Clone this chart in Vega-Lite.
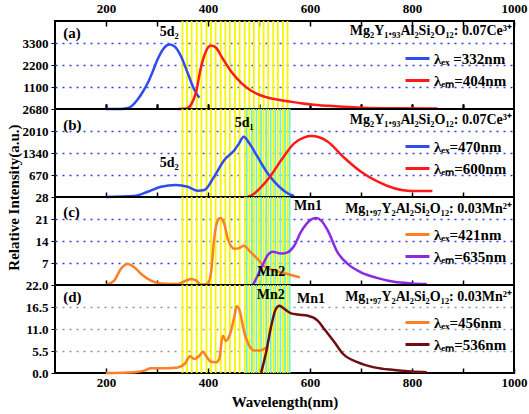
{
"$schema": "https://vega.github.io/schema/vega-lite/v6.json",
"padding": {"left": 5, "top": 1, "right": 2, "bottom": 2},
"spacing": 0,
"bounds": "flush",
"background": "white",
"config": {
  "view": {"stroke": "black", "strokeWidth": 2},
  "font": "Liberation Serif",
  "axis": {"labelFont": "Liberation Serif", "labelFontWeight": "bold", "labelFontSize": 13, "labelColor": "black", "tickColor": "black", "domain": false, "titleFont": "Liberation Serif", "titleColor": "black", "labelOverlap": false, "tickCount": 20},
  "text": {"font": "Liberation Serif", "fontWeight": "bold", "color": "black"},
  "legend": {"orient": "none", "legendX": 349, "legendY": 24, "symbolType": "stroke", "symbolStrokeWidth": 3, "symbolSize": 576, "labelFont": "Liberation Serif", "labelFontWeight": "bold", "labelFontSize": 15, "labelColor": "black", "rowPadding": 0, "padding": 0, "labelOffset": 3, "title": null}
},
"resolve": {"scale": {"x": "independent", "y": "independent", "color": "independent"}, "axis": {"x": "independent", "y": "independent"}, "legend": {"color": "independent"}},
"datasets": {
  "yellow": [{"wl":350},{"wl":359},{"wl":368},{"wl":378},{"wl":387},{"wl":397},{"wl":406},{"wl":415},{"wl":425},{"wl":434},{"wl":443},{"wl":453},{"wl":462},{"wl":472},{"wl":481},{"wl":490},{"wl":500},{"wl":509},{"wl":518},{"wl":528},{"wl":537},{"wl":547},{"wl":556}],
  "cyan": [{"wl":476},{"wl":486},{"wl":495},{"wl":504},{"wl":514},{"wl":523},{"wl":532},{"wl":542},{"wl":551},{"wl":560}],
  "notes": [
    {"p":"a","k":"tag","t":"(a)","wl":116,"v":3825},
    {"p":"a","k":"peak","t":"5d₂","wl":324,"v":3875},
    {"p":"a","k":"formula","t":"Mg₂Y₁.₉₃Al₂Si₂O₁₂: 0.07Ce³⁺","wl":996,"v":3890},
    {"p":"b","k":"tag","t":"(b)","wl":116,"v":2192},
    {"p":"b","k":"peak","t":"5d₁","wl":471,"v":2253},
    {"p":"b","k":"peak","t":"5d₂","wl":324,"v":1035},
    {"p":"b","k":"formula","t":"Mg₂Y₁.₉₃Al₂Si₂O₁₂: 0.07Ce³⁺","wl":996,"v":2345},
    {"p":"c","k":"tag","t":"(c)","wl":116,"v":23.2},
    {"p":"c","k":"peak","t":"Mn1","wl":596,"v":25.1},
    {"p":"c","k":"peak","t":"Mn2","wl":524,"v":4.1},
    {"p":"c","k":"formula","t":"Mg₁.₉₇Y₂Al₂Si₂O₁₂: 0.03Mn²⁺","wl":996,"v":24.2},
    {"p":"d","k":"tag","t":"(d)","wl":116,"v":19.1},
    {"p":"d","k":"peak","t":"Mn2","wl":523,"v":19.5},
    {"p":"d","k":"peak","t":"Mn1","wl":602,"v":18.5},
    {"p":"d","k":"formula","t":"Mg₁.₉₇Y₂Al₂Si₂O₁₂: 0.03Mn²⁺","wl":996,"v":19}
  ],
  "curves": [
    {"p":"a","s":"λₑₓ =332nm","wl":200,"v":0},{"p":"a","s":"λₑₓ =332nm","wl":230,"v":0},{"p":"a","s":"λₑₓ =332nm","wl":245,"v":60},{"p":"a","s":"λₑₓ =332nm","wl":262,"v":475},{"p":"a","s":"λₑₓ =332nm","wl":272,"v":850},{"p":"a","s":"λₑₓ =332nm","wl":282,"v":1310},{"p":"a","s":"λₑₓ =332nm","wl":292,"v":1900},{"p":"a","s":"λₑₓ =332nm","wl":301,"v":2475},{"p":"a","s":"λₑₓ =332nm","wl":314,"v":3060},{"p":"a","s":"λₑₓ =332nm","wl":324,"v":3225},{"p":"a","s":"λₑₓ =332nm","wl":334,"v":3140},{"p":"a","s":"λₑₓ =332nm","wl":347,"v":2640},{"p":"a","s":"λₑₓ =332nm","wl":360,"v":1810},{"p":"a","s":"λₑₓ =332nm","wl":373,"v":975},{"p":"a","s":"λₑₓ =332nm","wl":383,"v":560},
    {"p":"a","s":"λₑₘ=404nm","wl":340,"v":0},{"p":"a","s":"λₑₘ=404nm","wl":357,"v":10},{"p":"a","s":"λₑₘ=404nm","wl":367,"v":225},{"p":"a","s":"λₑₘ=404nm","wl":377,"v":890},{"p":"a","s":"λₑₘ=404nm","wl":386,"v":2060},{"p":"a","s":"λₑₘ=404nm","wl":396,"v":2890},{"p":"a","s":"λₑₘ=404nm","wl":406,"v":3175},{"p":"a","s":"λₑₘ=404nm","wl":416,"v":3060},{"p":"a","s":"λₑₘ=404nm","wl":426,"v":2640},{"p":"a","s":"λₑₘ=404nm","wl":445,"v":1890},{"p":"a","s":"λₑₘ=404nm","wl":465,"v":1310},{"p":"a","s":"λₑₘ=404nm","wl":484,"v":925},{"p":"a","s":"λₑₘ=404nm","wl":504,"v":675},{"p":"a","s":"λₑₘ=404nm","wl":524,"v":525},{"p":"a","s":"λₑₘ=404nm","wl":543,"v":440},{"p":"a","s":"λₑₘ=404nm","wl":563,"v":360},{"p":"a","s":"λₑₘ=404nm","wl":582,"v":290},{"p":"a","s":"λₑₘ=404nm","wl":602,"v":230},{"p":"a","s":"λₑₘ=404nm","wl":635,"v":160},{"p":"a","s":"λₑₘ=404nm","wl":665,"v":110},{"p":"a","s":"λₑₘ=404nm","wl":700,"v":65},{"p":"a","s":"λₑₘ=404nm","wl":765,"v":35},{"p":"a","s":"λₑₘ=404nm","wl":850,"v":25},
    {"p":"b","s":"λₑₓ=470nm","wl":200,"v":0},{"p":"b","s":"λₑₓ=470nm","wl":255,"v":30},{"p":"b","s":"λₑₓ=470nm","wl":282,"v":160},{"p":"b","s":"λₑₓ=470nm","wl":308,"v":314},{"p":"b","s":"λₑₓ=470nm","wl":337,"v":365},{"p":"b","s":"λₑₓ=470nm","wl":360,"v":314},{"p":"b","s":"λₑₓ=470nm","wl":380,"v":192},{"p":"b","s":"λₑₓ=470nm","wl":393,"v":213},{"p":"b","s":"λₑₓ=470nm","wl":412,"v":618},{"p":"b","s":"λₑₓ=470nm","wl":432,"v":1127},{"p":"b","s":"λₑₓ=470nm","wl":452,"v":1431},{"p":"b","s":"λₑₓ=470nm","wl":461,"v":1634},{"p":"b","s":"λₑₓ=470nm","wl":470,"v":1836},{"p":"b","s":"λₑₓ=470nm","wl":481,"v":1634},{"p":"b","s":"λₑₓ=470nm","wl":497,"v":1227},{"p":"b","s":"λₑₓ=470nm","wl":517,"v":721},{"p":"b","s":"λₑₓ=470nm","wl":530,"v":466},{"p":"b","s":"λₑₓ=470nm","wl":543,"v":265},{"p":"b","s":"λₑₓ=470nm","wl":556,"v":113},{"p":"b","s":"λₑₓ=470nm","wl":569,"v":30},
    {"p":"b","s":"λₑₘ=600nm","wl":478,"v":0},{"p":"b","s":"λₑₘ=600nm","wl":491,"v":110},{"p":"b","s":"λₑₘ=600nm","wl":504,"v":300},{"p":"b","s":"λₑₘ=600nm","wl":523,"v":650},{"p":"b","s":"λₑₘ=600nm","wl":543,"v":1110},{"p":"b","s":"λₑₘ=600nm","wl":569,"v":1634},{"p":"b","s":"λₑₘ=600nm","wl":589,"v":1818},{"p":"b","s":"λₑₘ=600nm","wl":602,"v":1858},{"p":"b","s":"λₑₘ=600nm","wl":618,"v":1818},{"p":"b","s":"λₑₘ=600nm","wl":635,"v":1684},{"p":"b","s":"λₑₘ=600nm","wl":665,"v":1227},{"p":"b","s":"λₑₘ=600nm","wl":700,"v":770},{"p":"b","s":"λₑₘ=600nm","wl":733,"v":466},{"p":"b","s":"λₑₘ=600nm","wl":765,"v":265},{"p":"b","s":"λₑₘ=600nm","wl":798,"v":183},{"p":"b","s":"λₑₘ=600nm","wl":840,"v":183},
    {"p":"c","s":"λₑₓ=421nm","wl":200,"v":0},{"p":"c","s":"λₑₓ=421nm","wl":216,"v":1.4},{"p":"c","s":"λₑₓ=421nm","wl":229,"v":5.1},{"p":"c","s":"λₑₓ=421nm","wl":242,"v":6.7},{"p":"c","s":"λₑₓ=421nm","wl":256,"v":5.6},{"p":"c","s":"λₑₓ=421nm","wl":269,"v":3.5},{"p":"c","s":"λₑₓ=421nm","wl":288,"v":1.4},{"p":"c","s":"λₑₓ=421nm","wl":308,"v":0.5},{"p":"c","s":"λₑₓ=421nm","wl":340,"v":0.3},{"p":"c","s":"λₑₓ=421nm","wl":357,"v":1.4},{"p":"c","s":"λₑₓ=421nm","wl":367,"v":1.9},{"p":"c","s":"λₑₓ=421nm","wl":377,"v":1.4},{"p":"c","s":"λₑₓ=421nm","wl":386,"v":0.1},{"p":"c","s":"λₑₓ=421nm","wl":399,"v":0.3},{"p":"c","s":"λₑₓ=421nm","wl":406,"v":4},{"p":"c","s":"λₑₓ=421nm","wl":412,"v":14.6},{"p":"c","s":"λₑₓ=421nm","wl":419,"v":20.5},{"p":"c","s":"λₑₓ=421nm","wl":424,"v":21.3},{"p":"c","s":"λₑₓ=421nm","wl":432,"v":19.4},{"p":"c","s":"λₑₓ=421nm","wl":439,"v":14.6},{"p":"c","s":"λₑₓ=421nm","wl":452,"v":11.5},{"p":"c","s":"λₑₓ=421nm","wl":462,"v":11.8},{"p":"c","s":"λₑₓ=421nm","wl":470,"v":12.5},{"p":"c","s":"λₑₓ=421nm","wl":484,"v":10.4},{"p":"c","s":"λₑₓ=421nm","wl":497,"v":8.3},{"p":"c","s":"λₑₓ=421nm","wl":510,"v":6},{"p":"c","s":"λₑₓ=421nm","wl":530,"v":4.6},{"p":"c","s":"λₑₓ=421nm","wl":556,"v":3.5},{"p":"c","s":"λₑₓ=421nm","wl":580,"v":2.4},
    {"p":"c","s":"λₑₘ=635nm","wl":488,"v":0},{"p":"c","s":"λₑₘ=635nm","wl":499,"v":3.5},{"p":"c","s":"λₑₘ=635nm","wl":507,"v":6.3},{"p":"c","s":"λₑₘ=635nm","wl":517,"v":9.5},{"p":"c","s":"λₑₘ=635nm","wl":527,"v":10.6},{"p":"c","s":"λₑₘ=635nm","wl":543,"v":10},{"p":"c","s":"λₑₘ=635nm","wl":556,"v":10.4},{"p":"c","s":"λₑₘ=635nm","wl":569,"v":12.5},{"p":"c","s":"λₑₘ=635nm","wl":582,"v":16.8},{"p":"c","s":"λₑₘ=635nm","wl":602,"v":20.8},{"p":"c","s":"λₑₘ=635nm","wl":612,"v":21.3},{"p":"c","s":"λₑₘ=635nm","wl":622,"v":20.5},{"p":"c","s":"λₑₘ=635nm","wl":635,"v":17.3},{"p":"c","s":"λₑₘ=635nm","wl":654,"v":10.4},{"p":"c","s":"λₑₘ=635nm","wl":674,"v":6.7},{"p":"c","s":"λₑₘ=635nm","wl":700,"v":4},{"p":"c","s":"λₑₘ=635nm","wl":733,"v":2.2},{"p":"c","s":"λₑₘ=635nm","wl":765,"v":1},{"p":"c","s":"λₑₘ=635nm","wl":798,"v":0.5},{"p":"c","s":"λₑₘ=635nm","wl":829,"v":0.3},
    {"p":"d","s":"λₑₓ=456nm","wl":200,"v":0},{"p":"d","s":"λₑₓ=456nm","wl":256,"v":0.2},{"p":"d","s":"λₑₓ=456nm","wl":275,"v":0.6},{"p":"d","s":"λₑₓ=456nm","wl":288,"v":1.2},{"p":"d","s":"λₑₓ=456nm","wl":321,"v":1.2},{"p":"d","s":"λₑₓ=456nm","wl":341,"v":1.4},{"p":"d","s":"λₑₓ=456nm","wl":354,"v":2.25},{"p":"d","s":"λₑₓ=456nm","wl":365,"v":4.2},{"p":"d","s":"λₑₓ=456nm","wl":373,"v":3.5},{"p":"d","s":"λₑₓ=456nm","wl":383,"v":4.3},{"p":"d","s":"λₑₓ=456nm","wl":390,"v":5.3},{"p":"d","s":"λₑₓ=456nm","wl":396,"v":4.3},{"p":"d","s":"λₑₓ=456nm","wl":406,"v":2.8},{"p":"d","s":"λₑₓ=456nm","wl":416,"v":2.7},{"p":"d","s":"λₑₓ=456nm","wl":422,"v":3.5},{"p":"d","s":"λₑₓ=456nm","wl":429,"v":9.3},{"p":"d","s":"λₑₓ=456nm","wl":435,"v":8},{"p":"d","s":"λₑₓ=456nm","wl":442,"v":9.3},{"p":"d","s":"λₑₓ=456nm","wl":452,"v":14.3},{"p":"d","s":"λₑₓ=456nm","wl":456,"v":16.7},{"p":"d","s":"λₑₓ=456nm","wl":461,"v":16},{"p":"d","s":"λₑₓ=456nm","wl":471,"v":10.2},{"p":"d","s":"λₑₓ=456nm","wl":481,"v":6.8},{"p":"d","s":"λₑₓ=456nm","wl":491,"v":5.6},{"p":"d","s":"λₑₓ=456nm","wl":501,"v":5.6},{"p":"d","s":"λₑₓ=456nm","wl":514,"v":6.4},
    {"p":"d","s":"λₑₘ=536nm","wl":504,"v":0},{"p":"d","s":"λₑₘ=536nm","wl":514,"v":5.2},{"p":"d","s":"λₑₘ=536nm","wl":524,"v":11.8},{"p":"d","s":"λₑₘ=536nm","wl":533,"v":16},{"p":"d","s":"λₑₘ=536nm","wl":540,"v":16.8},{"p":"d","s":"λₑₘ=536nm","wl":550,"v":16},{"p":"d","s":"λₑₘ=536nm","wl":563,"v":14.9},{"p":"d","s":"λₑₘ=536nm","wl":576,"v":14.6},{"p":"d","s":"λₑₘ=536nm","wl":596,"v":14.3},{"p":"d","s":"λₑₘ=536nm","wl":615,"v":13.1},{"p":"d","s":"λₑₘ=536nm","wl":628,"v":11},{"p":"d","s":"λₑₘ=536nm","wl":648,"v":7.7},{"p":"d","s":"λₑₘ=536nm","wl":665,"v":4.75},{"p":"d","s":"λₑₘ=536nm","wl":693,"v":2.7},{"p":"d","s":"λₑₘ=536nm","wl":726,"v":1.4},{"p":"d","s":"λₑₘ=536nm","wl":765,"v":0.75},{"p":"d","s":"λₑₘ=536nm","wl":798,"v":0.4},{"p":"d","s":"λₑₘ=536nm","wl":829,"v":0.2}
  ]
},
"vconcat": [
  {"width": 459, "height": 88,
   "layer": [
    {"data": {"name": "yellow"}, "mark": {"type": "rule", "color": "#F6F600", "strokeWidth": 1.8},
     "encoding": {"x": {"field": "wl", "type": "quantitative", "scale": {"domain": [100, 1000], "nice": false},
       "axis": {"orient": "bottom", "values": [200,300,400,500,600,700,800,900], "labels": false, "tickSize": -5, "tickWidth": 1.5, "title": null, "grid": false}}}},
    {"data": {"name": "curves"}, "transform": [{"filter": "datum.p == 'a'"}],
     "mark": {"type": "line", "interpolate": "monotone", "strokeWidth": 2.5},
     "encoding": {
       "x": {"field": "wl", "type": "quantitative", "scale": {"domain": [100, 1000], "nice": false},
         "axis": {"orient": "top", "values": [200,300,400,500,600,700,800,900,1000], "format": "d", "labelExpr": "datum.value % 200 == 0 ? datum.label : ''", "tickSize": -5, "tickWidth": 1.5, "labelPadding": 11, "labelFlush": false, "title": null, "grid": false}},
       "y": {"field": "v", "type": "quantitative", "scale": {"domain": [0, 4400], "nice": false},
         "axis": {"values": [1100, 2200, 3300], "format": "d", "grid": true, "gridDash": [2, 5], "gridColor": "#2D3FE8", "gridWidth": 1.4, "tickSize": 4, "labelPadding": 3, "title": null}},
       "color": {"field": "s", "type": "nominal", "scale": {"domain": ["λₑₓ =332nm", "λₑₘ=404nm"], "range": ["#2F4BF2", "#FF1A1A"]}, "legend": {}}
     }},
    {"data": {"name": "notes"}, "transform": [{"filter": "datum.p == 'a' && datum.k == 'tag'"}], "mark": {"type": "text", "align": "left", "fontSize": 15},
     "encoding": {"x": {"field": "wl", "type": "quantitative", "axis": {"orient": "bottom", "values": [200,300,400,500,600,700,800,900], "labels": false, "tickSize": -5, "tickWidth": 1.5, "title": null, "grid": false}}, "y": {"field": "v", "type": "quantitative"}, "text": {"field": "t"}}},
    {"data": {"name": "notes"}, "transform": [{"filter": "datum.p == 'a' && datum.k == 'peak'"}], "mark": {"type": "text", "align": "center", "fontSize": 14},
     "encoding": {"x": {"field": "wl", "type": "quantitative", "axis": {"orient": "bottom", "values": [200,300,400,500,600,700,800,900], "labels": false, "tickSize": -5, "tickWidth": 1.5, "title": null, "grid": false}}, "y": {"field": "v", "type": "quantitative"}, "text": {"field": "t"}}},
    {"data": {"name": "notes"}, "transform": [{"filter": "datum.p == 'a' && datum.k == 'formula'"}], "mark": {"type": "text", "align": "right", "fontSize": 14},
     "encoding": {"x": {"field": "wl", "type": "quantitative", "axis": {"orient": "bottom", "values": [200,300,400,500,600,700,800,900], "labels": false, "tickSize": -5, "tickWidth": 1.5, "title": null, "grid": false}}, "y": {"field": "v", "type": "quantitative"}, "text": {"field": "t"}}}
   ]},
  {"width": 459, "height": 88,
   "layer": [
    {"data": {"name": "yellow"}, "mark": {"type": "rule", "color": "#F6F600", "strokeWidth": 1.8},
     "encoding": {"x": {"field": "wl", "type": "quantitative", "scale": {"domain": [100, 1000], "nice": false},
       "axis": {"orient": "bottom", "values": [200,300,400,500,600,700,800,900], "labels": false, "tickSize": -5, "tickWidth": 1.5, "title": null, "grid": false}}}},
    {"data": {"name": "cyan"}, "mark": {"type": "rule", "color": "#72F2C4", "strokeWidth": 1.8},
     "encoding": {"x": {"field": "wl", "type": "quantitative"}}},
    {"data": {"name": "curves"}, "transform": [{"filter": "datum.p == 'b'"}],
     "mark": {"type": "line", "interpolate": "monotone", "strokeWidth": 2.5},
     "encoding": {
       "x": {"field": "wl", "type": "quantitative"},
       "y": {"field": "v", "type": "quantitative", "scale": {"domain": [0, 2680], "nice": false},
         "axis": {"values": [670, 1340, 2010, 2680], "format": "d", "grid": true, "gridDash": [2, 5], "gridColor": {"condition": {"test": "datum.value == 2680", "value": "transparent"}, "value": "#2D3FE8"}, "gridWidth": 1.4, "tickSize": 4, "labelPadding": 3,
           "title": "Relative Intensity(a.u.)", "titleFontSize": 15, "titleFontWeight": "bold", "titleX": -42, "titleY": 88, "titleBaseline": "middle", "titleAngle": 270}},
       "color": {"field": "s", "type": "nominal", "scale": {"domain": ["λₑₓ=470nm", "λₑₘ=600nm"], "range": ["#2F4BF2", "#FF1A1A"]}, "legend": {}}
     }},
    {"data": {"name": "notes"}, "transform": [{"filter": "datum.p == 'b' && datum.k == 'tag'"}], "mark": {"type": "text", "align": "left", "fontSize": 15},
     "encoding": {"x": {"field": "wl", "type": "quantitative"}, "y": {"field": "v", "type": "quantitative"}, "text": {"field": "t"}}},
    {"data": {"name": "notes"}, "transform": [{"filter": "datum.p == 'b' && datum.k == 'peak'"}], "mark": {"type": "text", "align": "center", "fontSize": 14},
     "encoding": {"x": {"field": "wl", "type": "quantitative"}, "y": {"field": "v", "type": "quantitative"}, "text": {"field": "t"}}},
    {"data": {"name": "notes"}, "transform": [{"filter": "datum.p == 'b' && datum.k == 'formula'"}], "mark": {"type": "text", "align": "right", "fontSize": 14},
     "encoding": {"x": {"field": "wl", "type": "quantitative"}, "y": {"field": "v", "type": "quantitative"}, "text": {"field": "t"}}}
   ]},
  {"width": 459, "height": 88,
   "layer": [
    {"data": {"name": "yellow"}, "mark": {"type": "rule", "color": "#F6F600", "strokeWidth": 1.8},
     "encoding": {"x": {"field": "wl", "type": "quantitative", "scale": {"domain": [100, 1000], "nice": false},
       "axis": {"orient": "bottom", "values": [200,300,400,500,600,700,800,900], "labels": false, "tickSize": -5, "tickWidth": 1.5, "title": null, "grid": false}}}},
    {"data": {"name": "cyan"}, "mark": {"type": "rule", "color": "#72F2C4", "strokeWidth": 1.8},
     "encoding": {"x": {"field": "wl", "type": "quantitative"}}},
    {"data": {"name": "curves"}, "transform": [{"filter": "datum.p == 'c'"}],
     "mark": {"type": "line", "interpolate": "monotone", "strokeWidth": 2.5},
     "encoding": {
       "x": {"field": "wl", "type": "quantitative"},
       "y": {"field": "v", "type": "quantitative", "scale": {"domain": [0, 28], "nice": false},
         "axis": {"values": [7, 14, 21, 28], "format": "d", "grid": true, "gridDash": [2, 5], "gridColor": {"condition": {"test": "datum.value == 28", "value": "transparent"}, "value": "#2D3FE8"}, "gridWidth": 1.4, "tickSize": 4, "labelPadding": 3, "title": null}},
       "color": {"field": "s", "type": "nominal", "scale": {"domain": ["λₑₓ=421nm", "λₑₘ=635nm"], "range": ["#FF7F27", "#8A2BE2"]}, "legend": {}}
     }},
    {"data": {"name": "notes"}, "transform": [{"filter": "datum.p == 'c' && datum.k == 'tag'"}], "mark": {"type": "text", "align": "left", "fontSize": 15},
     "encoding": {"x": {"field": "wl", "type": "quantitative"}, "y": {"field": "v", "type": "quantitative"}, "text": {"field": "t"}}},
    {"data": {"name": "notes"}, "transform": [{"filter": "datum.p == 'c' && datum.k == 'peak'"}], "mark": {"type": "text", "align": "center", "fontSize": 14},
     "encoding": {"x": {"field": "wl", "type": "quantitative"}, "y": {"field": "v", "type": "quantitative"}, "text": {"field": "t"}}},
    {"data": {"name": "notes"}, "transform": [{"filter": "datum.p == 'c' && datum.k == 'formula'"}], "mark": {"type": "text", "align": "right", "fontSize": 14},
     "encoding": {"x": {"field": "wl", "type": "quantitative"}, "y": {"field": "v", "type": "quantitative"}, "text": {"field": "t"}}}
   ]},
  {"width": 459, "height": 88,
   "layer": [
    {"data": {"name": "yellow"}, "mark": {"type": "rule", "color": "#F6F600", "strokeWidth": 1.8},
     "encoding": {"x": {"field": "wl", "type": "quantitative", "scale": {"domain": [100, 1000], "nice": false},
       "axis": {"orient": "bottom", "values": [200,300,400,500,600,700,800,900,1000], "format": "d", "labelExpr": "datum.value % 200 == 0 ? datum.label : ''", "tickSize": -5, "tickWidth": 1.5, "labelPadding": 8, "labelFlush": false, "grid": false,
         "title": "Wavelength(nm)", "titleFontSize": 15, "titleFontWeight": "bold", "titlePadding": 5}}}},
    {"data": {"name": "cyan"}, "mark": {"type": "rule", "color": "#72F2C4", "strokeWidth": 1.8},
     "encoding": {"x": {"field": "wl", "type": "quantitative"}}},
    {"data": {"name": "curves"}, "transform": [{"filter": "datum.p == 'd'"}],
     "mark": {"type": "line", "interpolate": "monotone", "strokeWidth": 2.5},
     "encoding": {
       "x": {"field": "wl", "type": "quantitative"},
       "y": {"field": "v", "type": "quantitative", "scale": {"domain": [0, 22], "nice": false},
         "axis": {"values": [0, 5.5, 11, 16.5, 22], "format": ".1f", "grid": true, "gridDash": [2, 5], "gridColor": {"condition": {"test": "datum.value == 22 || datum.value == 0", "value": "transparent"}, "value": "#8795A8"}, "gridWidth": 1.4, "tickSize": 4, "labelPadding": 3, "title": null}},
       "color": {"field": "s", "type": "nominal", "scale": {"domain": ["λₑₓ=456nm", "λₑₘ=536nm"], "range": ["#FF7F27", "#6E0E12"]}, "legend": {}}
     }},
    {"data": {"name": "notes"}, "transform": [{"filter": "datum.p == 'd' && datum.k == 'tag'"}], "mark": {"type": "text", "align": "left", "fontSize": 15},
     "encoding": {"x": {"field": "wl", "type": "quantitative"}, "y": {"field": "v", "type": "quantitative"}, "text": {"field": "t"}}},
    {"data": {"name": "notes"}, "transform": [{"filter": "datum.p == 'd' && datum.k == 'peak'"}], "mark": {"type": "text", "align": "center", "fontSize": 14},
     "encoding": {"x": {"field": "wl", "type": "quantitative"}, "y": {"field": "v", "type": "quantitative"}, "text": {"field": "t"}}},
    {"data": {"name": "notes"}, "transform": [{"filter": "datum.p == 'd' && datum.k == 'formula'"}], "mark": {"type": "text", "align": "right", "fontSize": 14},
     "encoding": {"x": {"field": "wl", "type": "quantitative"}, "y": {"field": "v", "type": "quantitative"}, "text": {"field": "t"}}}
   ]}
]
}
